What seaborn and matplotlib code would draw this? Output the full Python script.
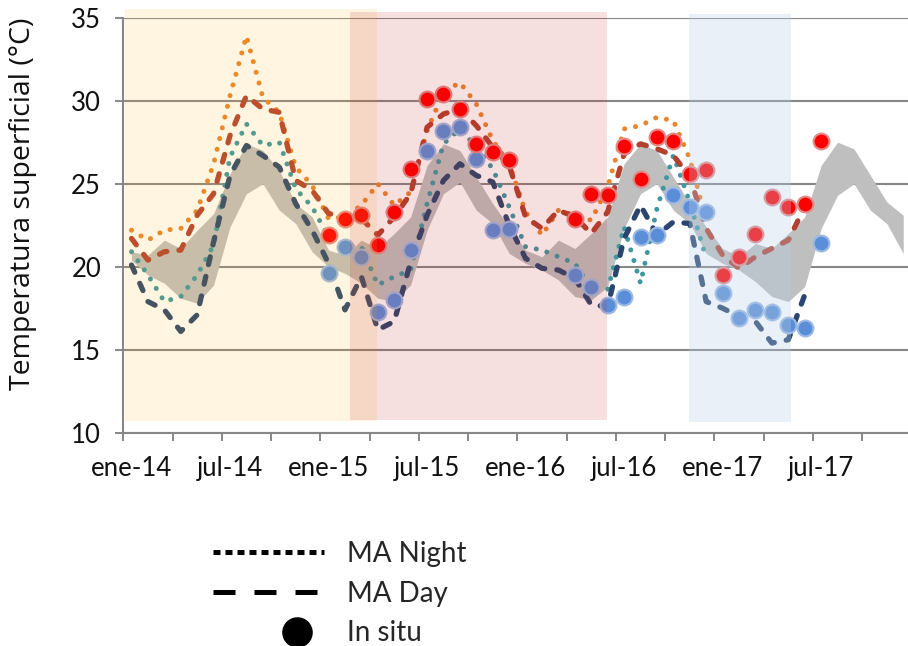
import numpy as np
import pandas as pd
import seaborn as sns
import matplotlib
matplotlib.use("Agg")
import matplotlib.pyplot as plt
from matplotlib.lines import Line2D
from matplotlib.patches import Rectangle
from matplotlib.legend_handler import HandlerLine2D

# ---------------- data ----------------
months = list(range(48))  # ene-14 ... dic-17 (monthly categories)
tick_pos = [0, 6, 12, 18, 24, 30, 36, 42]
tick_labels = ['ene-14', 'jul-14', 'ene-15', 'jul-15', 'ene-16', 'jul-16', 'ene-17', 'jul-17']
y_ticks = [10, 15, 20, 25, 30, 35]

# MA Night (orange, dotted) ene-14 .. dic-16
night_a = [22.2, 21.6, 22.2, 22.3, 23.4, 26.2, 30.3, 33.9, 30.2, 29.3, 26.0, 24.9,
           22.9, 23.0, 23.7, 25.0, 23.7, 24.5, 28.2, 30.5, 31.1, 29.8, 27.6, 26.2,
           23.3, 21.9, 23.4, 23.1, 22.8, 24.8, 28.3, 28.5, 29.0, 28.8, 26.5, 22.8]
# MA Night (teal, dotted) ene-14 .. dic-16
night_b = [20.9, 19.5, 17.9, 18.2, 19.5, 21.3, 26.6, 28.6, 27.3, 27.5, 24.7, 23.6,
           21.8, 21.3, 21.2, 18.9, 19.4, 19.8, 23.8, 27.4, 28.3, 27.2, 25.9, 23.6,
           21.2, 21.0, 20.6, 20.2, 18.7, 18.6, 22.4, 19.0, 23.5, 26.7, 23.9, 20.5]
# MA Day (brick red, dashed) ene-14 .. jun-17
day_a = [21.7, 20.4, 20.9, 21.0, 23.1, 24.4, 27.9, 30.3, 29.5, 29.3, 25.2, 24.6,
         23.2, 23.0, 22.9, 21.9, 23.0, 24.4, 28.4, 29.2, 29.5, 28.5, 27.2, 26.1,
         23.0, 22.3, 23.4, 23.0, 22.0, 23.3, 26.8, 27.4, 27.1, 26.7, 25.4, 22.3,
         20.7, 19.9, 20.6, 21.1, 21.6, 23.6]
# MA Day (navy, dashed) ene-14 .. jun-17
day_b = [20.1, 17.9, 17.4, 16.1, 17.1, 21.5, 25.5, 27.3, 26.7, 26.0, 23.8, 22.2,
         20.2, 17.4, 19.4, 16.2, 16.7, 20.3, 23.1, 25.2, 26.2, 25.5, 25.1, 22.5,
         20.5, 19.9, 19.8, 19.3, 17.7, 17.6, 21.7, 23.7, 21.9, 22.7, 22.6, 17.9,
         17.5, 17.0, 16.7, 15.4, 15.6, 18.3]
nan = np.nan
# In situ (red)
insitu_red = [nan] * 12 + [21.9, 22.9, 23.1, 21.3, 23.3, 25.9, 30.1, 30.4, 29.5, 27.4, 26.9, 26.4,
              nan, nan, nan, 22.9, 24.4, 24.3, 27.3, 25.3, 27.8, 27.6, 25.6, 25.8,
              19.5, 20.6, 22.0, 24.2, 23.6, 23.8, 27.6, nan, nan, nan, nan, nan]
# In situ (blue)
insitu_blue = [nan] * 12 + [19.6, 21.2, 20.6, 17.3, 18.0, 21.0, 27.0, 28.2, 28.4, 26.5, 22.2, 22.3,
               nan, nan, nan, 19.5, 18.8, 17.7, 18.2, 21.8, 21.9, 24.3, 23.6, 23.3,
               18.4, 16.9, 17.4, 17.3, 16.5, 16.3, 21.4, nan, nan, nan, nan, nan]
# grey band (upper / lower limits)
band_upper = [20.9, 20.7, 21.6, 21.1, 22.2, 23.2, 25.6, 27.4, 27.0, 25.8, 23.8, 23.0,
              21.0, 20.7, 21.6, 21.1, 22.0, 23.0, 26.1, 27.4, 27.0, 25.4, 23.8, 22.4,
              21.0, 20.6, 21.6, 21.1, 22.0, 23.0, 26.2, 27.4, 27.0, 25.4, 23.8, 22.4,
              21.1, 20.6, 21.4, 21.1, 22.0, 23.0, 26.1, 27.5, 27.1, 25.5, 23.9, 23.1]
band_lower = [20.4, 19.5, 19.0, 18.1, 17.8, 18.9, 22.4, 24.4, 25.0, 23.4, 22.6, 20.9,
              20.0, 19.6, 19.0, 18.1, 17.9, 18.9, 22.2, 24.4, 25.1, 23.4, 22.6, 20.8,
              20.2, 19.8, 19.2, 18.2, 18.0, 18.8, 22.3, 24.4, 25.0, 23.4, 22.6, 20.8,
              20.2, 19.8, 19.1, 18.2, 17.9, 18.8, 22.3, 24.3, 25.0, 23.4, 22.6, 20.8]

# shaded periods (x from, x to in month index; y from, y to)
periods = [
    ((-0.40, 14.95), (10.70, 35.52), (1.0, 0.70, 0.094), 0.13),
    ((13.30, 28.94), (10.76, 35.33), (0.776, 0.133, 0.133), 0.14),
    ((33.95, 40.15), (10.66, 35.20), (0.72, 0.82, 0.91), 0.31),
]

# ---------------- style ----------------
sns.set_style("white")
plt.rcParams['font.family'] = ['Lato', 'DejaVu Sans']
GRID = '#878787'

fig = plt.figure(figsize=(9.08, 6.46), dpi=100)
W, H = 908, 646
ax = fig.add_axes([123.3 / W, (H - 432.7) / H, (W - 123.3) / W, (432.7 - 17.7) / H])

# band
ax.fill_between(months, band_lower, band_upper, color='#BFBFBF', lw=0, zorder=1.5)

dot_ls = (0, (0.01, 2.2))
dash_ls = (0, (1.5, 2.3))


def draw_line(vals, color, lw, ls, z):
    sns.lineplot(x=months[:len(vals)], y=vals, ax=ax, color=color, lw=lw,
                 linestyle=ls, estimator=None, sort=False, zorder=z)
    ln = ax.lines[-1]
    ln.set_dash_capstyle('round')
    ln.set_solid_capstyle('round')


draw_line(night_a, '#E8842C', 3.6, dot_ls, 3)
draw_line(night_b, '#3D97A1', 3.6, dot_ls, 3)
draw_line(day_a, '#B3412F', 3.8, dash_ls, 3.2)
draw_line(day_b, '#2B466E', 3.8, dash_ls, 3.2)

sns.scatterplot(x=months, y=insitu_blue, ax=ax, s=130, color='#5A8ED8',
                edgecolor='#9DB9E4', linewidth=1.5, zorder=5, legend=False)
sns.scatterplot(x=months, y=insitu_red, ax=ax, s=130, color='#FF0000',
                edgecolor='#E48A8A', linewidth=1.5, zorder=5.2, legend=False)

for (x0, x1), (y0, y1), col, a in periods:
    ax.add_patch(Rectangle((x0, y0), x1 - x0, y1 - y0, facecolor=col, alpha=a,
                           lw=0, zorder=10, clip_on=False))

# axes
ax.set_xlim(-0.5, 47.29)
ax.set_ylim(10, 35)
for s in ['top', 'right']:
    ax.spines[s].set_visible(False)
for s in ['left', 'bottom']:
    ax.spines[s].set_color(GRID)
    ax.spines[s].set_linewidth(1.5)
ax.set_axisbelow(True)
ax.yaxis.grid(True, color=GRID, lw=1.5)
ax.xaxis.grid(False)

ax.set_yticks(y_ticks)
ax.set_yticklabels([str(v) for v in y_ticks])
ax.tick_params(axis='y', direction='out', length=6, width=1.4, color=GRID,
               labelsize=18.5, pad=10, left=True)
ax.set_xticks(tick_pos)
ax.set_xticklabels(tick_labels)
ax.set_xticks([-0.5 + 3 * k for k in range(16)], minor=True)
ax.tick_params(axis='x', which='major', length=0, labelsize=18.5, pad=17)
ax.tick_params(axis='x', which='minor', direction='out', length=6, width=1.4,
               color=GRID, bottom=True)
for lab in ax.get_xticklabels() + ax.get_yticklabels():
    lab.set_color('#111111')

ax.set_ylabel('Temperatura superficial (°C)', fontsize=20.5,
              fontfamily=['Open Sans', 'DejaVu Sans'], color='#111111')
ax.yaxis.set_label_coords(-0.110, 0.552)
ax.set_xlabel('')


# legend
class RightMarkerHandler(HandlerLine2D):
    def get_xdata(self, legend, xdescent, ydescent, width, height, fontsize):
        xd = [-xdescent + 0.52 * width, -xdescent + width]
        return xd, [-xdescent + 0.76 * width]


h_night = Line2D([], [], color='black', lw=3.6, linestyle=(0, (1.4, 1.0)),
                 dash_capstyle='butt')
h_day = Line2D([], [], color='black', lw=3.6, linestyle=(0, (4.4, 3.8)),
               dash_capstyle='butt')
h_situ = Line2D([], [], color='black', lw=0, marker='o', markersize=21)
fig.legend([h_night, h_day, h_situ], ['MA Night', 'MA Day', 'In situ'],
           loc='upper left', bbox_to_anchor=(213 / W, 0.163), frameon=False,
           prop={'family': ['Lato', 'DejaVu Sans'], 'size': 20},
           handlelength=4.0, handletextpad=0.83, borderpad=0, borderaxespad=0,
           labelspacing=0.5, handler_map={h_situ: RightMarkerHandler()})

fig.savefig('out.png', dpi=100)
